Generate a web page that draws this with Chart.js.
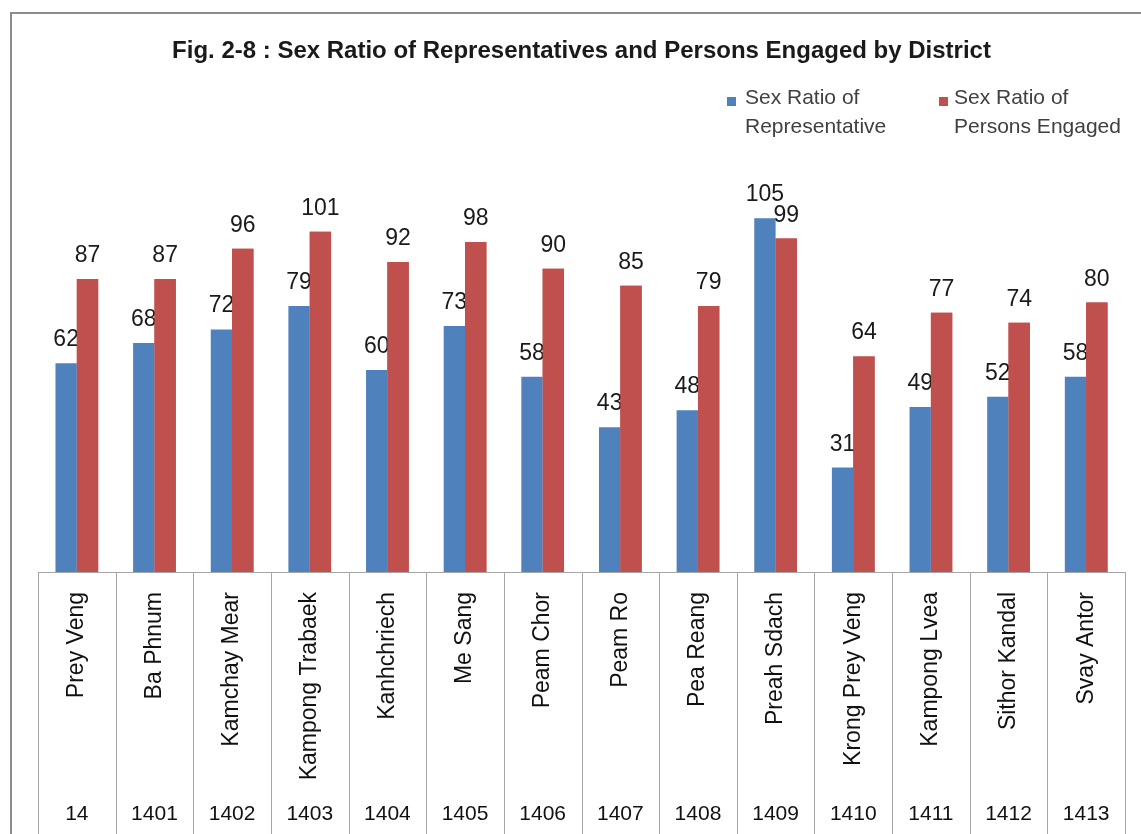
<!DOCTYPE html>
<html>
<head>
<meta charset="utf-8">
<script src="https://cdn.jsdelivr.net/npm/chart.js@4/dist/chart.umd.min.js"></script>
<style>
body{margin:0;background:#fff;width:1141px;height:834px;overflow:hidden;position:relative;}
#frame{position:absolute;left:10px;top:12px;width:1160px;height:840px;border-left:2px solid #8c8c8c;border-top:2px solid #8c8c8c;}
#wrap{position:absolute;left:12px;top:14px;width:1129px;height:820px;}
.leg{position:absolute;font-family:"Liberation Sans",Arial,sans-serif;font-size:21px;line-height:29px;color:#404040;}
.sw{position:absolute;width:9px;height:9px;}
</style>
</head>
<body>
<div id="frame"></div>
<div id="wrap"><canvas id="chart"></canvas></div>
<div class="sw" style="left:727px;top:97px;background:#4F81BD"></div>
<div class="leg" style="left:745px;top:82px;">Sex Ratio of<br>Representative</div>
<div class="sw" style="left:939px;top:97px;background:#C0504D"></div>
<div class="leg" style="left:954px;top:82px;">Sex Ratio of<br>Persons Engaged</div>
<script>
const districts = ["Prey Veng","Ba Phnum","Kamchay Mear","Kampong Trabaek","Kanhchriech","Me Sang","Peam Chor","Peam Ro","Pea Reang","Preah Sdach","Krong Prey Veng","Kampong Lvea","Sithor Kandal","Svay Antor"];
const codes = ["14","1401","1402","1403","1404","1405","1406","1407","1408","1409","1410","1411","1412","1413"];
const representative = [62,68,72,79,60,73,58,43,48,105,31,49,52,58];
const personsEngaged = [87,87,96,101,92,98,90,85,79,99,64,77,74,80];

function drawLabels(chart, index){
  const ctx = chart.ctx;
  const meta = chart.getDatasetMeta(index);
  const data = chart.data.datasets[index].data;
  ctx.save();
  ctx.font = "23px 'Liberation Sans', Arial, sans-serif";
  ctx.fillStyle = "#1a1a1a";
  ctx.textAlign = "center";
  ctx.textBaseline = "alphabetic";
  meta.data.forEach((bar, i) => {
    ctx.fillText(String(data[i]), bar.x, bar.y - 17);
  });
  ctx.restore();
}

// blue labels, then red bars again on top of them, then red labels (Excel look)
const valueLabels = {
  id:"valueLabels",
  afterDatasetsDraw(chart){
    drawLabels(chart, 0);
    chart.getDatasetMeta(1).data.forEach(bar => bar.draw(chart.ctx));
    drawLabels(chart, 1);
  }
};

// table-like separators under the category axis
const separators = {
  id:"separators",
  afterDraw(chart){
    const x = chart.scales.x;
    const ctx = chart.ctx;
    const half = (x.getPixelForValue(1) - x.getPixelForValue(0)) / 2;
    ctx.save();
    ctx.strokeStyle = "#a6a6a6";
    ctx.lineWidth = 1;
    ctx.beginPath();
    for(let i = 0; i <= districts.length; i++){
      const px = Math.round(x.getPixelForValue(i) - half) + 0.5;
      ctx.moveTo(px, x.top);
      ctx.lineTo(px, chart.height);
    }
    ctx.moveTo(x.getPixelForValue(0) - half, Math.round(x.top) + 0.5);
    ctx.lineTo(x.getPixelForValue(districts.length - 1) + half, Math.round(x.top) + 0.5);
    ctx.stroke();
    ctx.restore();
  }
};

new Chart(document.getElementById("chart"), {
  type:"bar",
  data:{
    labels:districts,
    datasets:[
      {label:"Sex Ratio of Representative", data:representative, backgroundColor:"#4F81BD", xAxisID:"x"},
      {label:"Sex Ratio of Persons Engaged", data:personsEngaged, backgroundColor:"#C0504D", xAxisID:"x"}
    ]
  },
  options:{
    responsive:true,
    maintainAspectRatio:false,
    animation:false,
    datasets:{bar:{categoryPercentage:0.55, barPercentage:1}},
    layout:{padding:{left:26, right:16, top:0, bottom:0}},
    plugins:{
      legend:{display:false},
      tooltip:{enabled:false},
      title:{
        display:true,
        text:"Fig. 2-8 : Sex Ratio of Representatives and Persons Engaged by District",
        color:"#1a1a1a",
        font:{family:"'Liberation Sans',Arial,sans-serif", size:24, weight:"bold"},
        padding:{top:23, bottom:102}
      }
    },
    scales:{
      y:{display:false, min:0, max:120},
      x:{
        position:"bottom",
        grid:{display:false},
        border:{display:false},
        ticks:{
          autoSkip:false, minRotation:90, maxRotation:90, padding:12,
          color:"#111",
          font:{family:"'Liberation Sans',Arial,sans-serif", size:23}
        },
        afterFit(scale){ scale.height = 215; }
      },
      x2:{
        type:"category",
        labels:codes,
        position:"bottom",
        offset:true,
        grid:{display:false},
        border:{display:false},
        ticks:{
          autoSkip:false, maxRotation:0, padding:7,
          color:"#111",
          font:{family:"'Liberation Sans',Arial,sans-serif", size:21}
        },
        afterFit(scale){ scale.height = 47; }
      }
    }
  },
  plugins:[valueLabels, separators]
});
</script>
</body>
</html>
